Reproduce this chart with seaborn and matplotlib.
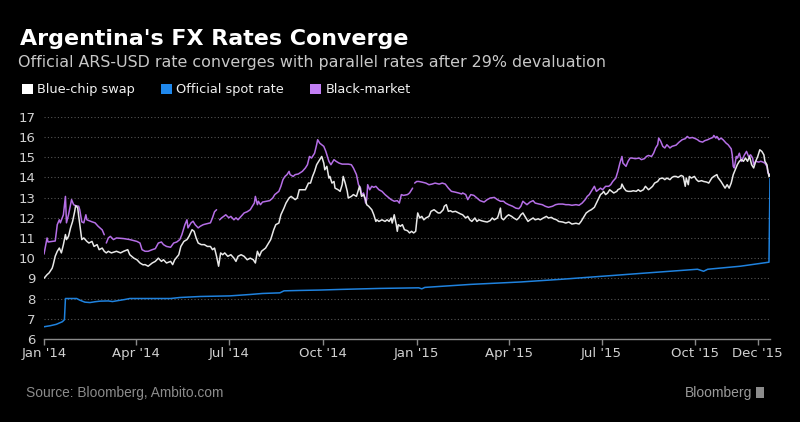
import numpy as np
import pandas as pd
import matplotlib
matplotlib.use('Agg')
import matplotlib.pyplot as plt
import seaborn as sns
from matplotlib.patches import Patch, Rectangle

# ARS per USD, x = days since 2014-01-01
swap_days = [0, 3, 5, 8, 9, 11, 13, 15, 17, 19, 21, 22, 24, 26, 28, 30, 31, 33, 34, 36,
             37, 39, 42, 44, 47, 49, 52, 54, 57, 59, 61, 63, 66, 71, 75, 78, 82, 84, 88, 91,
             94, 97, 99, 102, 106, 109, 112, 115, 117, 120, 124, 126, 128, 132, 134, 137, 140, 142, 145, 147,
             149, 151, 154, 157, 160, 163, 165, 167, 169, 171, 173, 175, 177, 180, 183, 186, 188, 190, 193, 196,
             199, 202, 205, 207, 209, 211, 213, 217, 220, 222, 225, 227, 230, 232, 235, 237, 240, 242, 244, 246,
             248, 250, 253, 256, 259, 261, 263, 265, 267, 269, 271, 272, 274, 275, 277, 279, 280, 282, 284, 285,
             288, 290, 292, 293, 295, 297, 298, 301, 303, 306, 308, 309, 310, 311, 313, 315, 316, 318, 321, 323,
             325, 326, 328, 331, 334, 336, 338, 340, 341, 343, 345, 346, 347, 349, 351, 353, 356, 358, 360, 362,
             364, 365, 366, 368, 370, 372, 374, 377, 379, 382, 384, 386, 388, 391, 392, 394, 396, 398, 400, 403,
             406, 408, 410, 413, 415, 417, 419, 422, 424, 426, 428, 431, 434, 437, 439, 441, 444, 445, 447, 448,
             450, 453, 455, 458, 460, 463, 465, 467, 469, 472, 474, 476, 479, 481, 484, 486, 489, 492, 494, 497,
             499, 502, 504, 508, 511, 514, 517, 521, 524, 526, 529, 531, 534, 536, 539, 541, 543, 545, 547, 548,
             550, 552, 554, 556, 558, 561, 562, 565, 566, 568, 570, 572, 575, 577, 580, 582, 584, 587, 589, 592,
             594, 596, 598, 601, 603, 606, 608, 610, 613, 615, 617, 619, 621, 624, 626, 628, 629, 631, 632, 634,
             637, 639, 641, 644, 646, 649, 651, 654, 656, 659, 660, 663, 665, 667, 669, 671, 673, 675, 677, 679,
             681, 683, 685, 687, 689, 691, 693, 695, 697, 699, 701, 703, 705, 706, 708, 709, 710, 711]
swap_rate = [9.0, 9.18, 9.27, 9.5, 9.67, 10.1, 10.34, 10.5, 10.26, 10.67, 11.17, 10.92, 11.08, 11.5, 11.82, 12.3, 12.6, 12.5, 12.07, 11.33,
             10.92, 11.0, 10.83, 10.75, 10.83, 10.58, 10.67, 10.42, 10.5, 10.34, 10.26, 10.34, 10.26, 10.34, 10.26, 10.34, 10.42, 10.17, 10.0, 9.92,
             9.76, 9.67, 9.68, 9.6, 9.76, 9.84, 10.0, 9.84, 9.92, 9.76, 9.84, 9.68, 9.92, 10.17, 10.58, 10.83, 10.92, 11.08, 11.41, 11.33,
             11.0, 10.75, 10.67, 10.67, 10.58, 10.58, 10.42, 10.5, 10.09, 9.6, 10.26, 10.17, 10.26, 10.09, 10.17, 10.0, 9.84, 10.09, 10.17, 10.09,
             9.92, 10.0, 9.92, 9.76, 10.34, 10.1, 10.34, 10.5, 10.75, 10.92, 11.41, 11.66, 11.74, 12.15, 12.48, 12.73, 12.98, 13.06, 12.98, 12.9,
             12.98, 13.39, 13.39, 13.39, 13.72, 13.72, 14.05, 14.3, 14.63, 14.8, 14.96, 15.04, 14.71, 14.38, 14.55, 13.97, 14.05, 13.72, 13.8, 13.47,
             13.39, 13.31, 13.64, 14.05, 13.72, 13.31, 12.98, 13.06, 13.15, 13.06, 13.4, 13.56, 13.31, 13.06, 13.15, 12.9, 12.65, 12.57, 12.4, 12.15,
             11.82, 11.9, 11.82, 11.9, 11.82, 11.9, 11.82, 11.99, 11.74, 12.15, 11.66, 11.33, 11.66, 11.58, 11.66, 11.41, 11.36, 11.25, 11.33, 11.25,
             11.33, 11.82, 12.24, 11.99, 12.07, 11.9, 11.99, 12.07, 12.32, 12.4, 12.32, 12.24, 12.24, 12.4, 12.57, 12.65, 12.32, 12.35, 12.29, 12.32,
             12.24, 12.19, 12.15, 11.99, 12.07, 11.9, 11.82, 11.99, 11.82, 11.9, 11.86, 11.82, 11.79, 11.86, 11.99, 11.9, 11.99, 12.12, 12.48, 11.99,
             11.9, 12.07, 12.15, 12.07, 11.99, 11.9, 11.99, 12.15, 12.24, 11.99, 11.82, 11.9, 11.99, 11.9, 11.95, 11.9, 11.99, 12.07, 11.99, 12.02,
             11.95, 11.9, 11.82, 11.79, 11.74, 11.79, 11.69, 11.73, 11.69, 11.82, 12.07, 12.24, 12.35, 12.4, 12.52, 12.73, 12.95, 13.15, 13.23, 13.31,
             13.15, 13.23, 13.39, 13.31, 13.23, 13.31, 13.39, 13.47, 13.67, 13.47, 13.34, 13.31, 13.31, 13.34, 13.31, 13.39, 13.31, 13.39, 13.56, 13.39,
             13.47, 13.56, 13.72, 13.8, 13.94, 13.97, 13.89, 13.97, 13.89, 14.0, 14.05, 14.05, 14.0, 14.1, 14.05, 13.56, 13.97, 13.64, 14.05, 13.97,
             14.05, 13.89, 13.8, 13.84, 13.8, 13.77, 13.72, 13.97, 14.05, 14.14, 14.0, 13.8, 13.64, 13.47, 13.64, 13.47, 13.72, 14.14, 14.38, 14.63,
             14.8, 14.88, 14.8, 14.96, 14.8, 15.04, 14.63, 14.47, 14.8, 15.04, 15.37, 15.29, 15.12, 14.8, 14.63, 14.3, 14.05, 14.14]

black_days = [0, 3, 4, 8, 11, 13, 15, 16, 19, 21, 22, 24, 27, 29, 31, 34, 35, 37, 39, 41,
              42, 47, 50, 53, 57, 59, 60, 61, 63, 65, 68, 71, 78, 84, 91, 94, 96, 99, 102, 106,
              109, 112, 115, 117, 120, 124, 127, 130, 133, 135, 138, 140, 141, 144, 146, 148, 151, 153, 156, 159,
              163, 165, 167, 169, 170, 172, 174, 176, 178, 181, 183, 186, 188, 190, 193, 196, 199, 202, 204, 206,
              207, 209, 210, 212, 214, 218, 221, 224, 226, 230, 232, 234, 236, 238, 240, 241, 244, 246, 249, 253,
              256, 258, 260, 262, 265, 267, 268, 270, 272, 274, 276, 279, 281, 284, 286, 289, 292, 295, 298, 301,
              303, 306, 308, 310, 311, 313, 315, 316, 317, 319, 321, 323, 325, 328, 331, 334, 338, 340, 343, 346,
              348, 350, 352, 356, 358, 360, 361, 362, 363, 365, 367, 370, 374, 377, 380, 383, 387, 390, 393, 396,
              399, 402, 406, 409, 410, 413, 415, 418, 421, 424, 427, 431, 434, 437, 441, 444, 447, 450, 452, 455,
              459, 462, 465, 467, 469, 471, 473, 476, 479, 481, 485, 488, 491, 494, 498, 501, 504, 508, 511, 514,
              517, 521, 524, 527, 530, 532, 534, 536, 539, 541, 543, 545, 547, 550, 553, 555, 557, 560, 562, 564,
              566, 567, 570, 572, 574, 576, 579, 583, 585, 588, 590, 592, 595, 597, 599, 601, 602, 604, 606, 608,
              610, 613, 615, 619, 622, 625, 628, 630, 632, 635, 638, 640, 642, 645, 647, 650, 652, 655, 656, 658,
              659, 661, 663, 665, 668, 670, 673, 674, 675, 676, 678, 679, 681, 683, 686, 688, 690, 692, 694, 695,
              697, 700, 702, 704, 706, 708, 709, 711]
black_rate = [10.2, 11.0, 10.8, 10.83, 10.85, 11.66, 11.9, 11.75, 12.15, 13.06, 11.75, 12.15, 12.9, 12.65, 12.6, 12.57, 12.4, 11.8, 11.75, 12.15,
              11.9, 11.8, 11.75, 11.58, 11.4, 11.16, np.nan, 10.75, 11.0, 11.08, 10.92, 11.0, 10.97, 10.92, 10.83, 10.75, 10.42, 10.34, 10.34, 10.42,
              10.47, 10.75, 10.8, 10.67, 10.58, 10.54, 10.75, 10.8, 10.92, 11.16, 11.66, 11.9, 11.5, 11.75, 11.83, 11.66, 11.5, 11.58, 11.66, 11.7,
              11.75, 12.0, 12.3, 12.4, np.nan, 11.9, 12.0, 12.07, 12.15, 12.0, 12.07, 11.9, 12.0, 11.9, 12.07, 12.24, 12.3, 12.4, 12.57, 12.73,
              13.06, 12.65, 12.82, 12.65, 12.78, 12.82, 12.85, 12.98, 13.15, 13.31, 13.56, 13.89, 14.05, 14.14, 14.3, 14.14, 14.05, 14.14, 14.17, 14.3,
              14.47, 14.63, 15.04, 14.96, 15.2, 15.62, 15.87, 15.7, 15.62, 15.54, 15.29, 14.8, 14.63, 14.88, 14.8, 14.71, 14.66, 14.66, 14.66, 14.63,
              14.47, 14.14, 13.64, 13.47, 13.15, 13.23, 12.73, 12.9, 13.64, 13.39, 13.56, 13.51, 13.56, 13.39, 13.31, 13.15, 12.98, 12.9, 12.82, 12.85,
              12.73, 13.15, 13.11, 13.15, 13.23, 13.39, 13.47, np.nan, 13.72, 13.8, 13.8, 13.77, 13.72, 13.64, 13.67, 13.72, 13.67, 13.72, 13.67, 13.47,
              13.31, 13.28, 13.23, 13.18, 13.23, 13.15, 12.9, 13.15, 13.11, 12.98, 12.85, 12.78, 12.9, 12.98, 13.01, 12.9, 12.82, 12.82, 12.73, 12.65,
              12.57, 12.48, 12.45, 12.57, 12.82, 12.73, 12.65, 12.78, 12.85, 12.73, 12.68, 12.65, 12.57, 12.52, 12.57, 12.65, 12.68, 12.68, 12.65, 12.65,
              12.62, 12.65, 12.62, 12.73, 12.9, 13.06, 13.15, 13.31, 13.56, 13.31, 13.39, 13.47, 13.39, 13.56, 13.56, 13.64, 13.8, 13.97, 14.3, 14.71,
              15.04, 14.71, 14.55, 14.8, 14.96, 14.96, 14.93, 14.96, 14.88, 14.93, 15.04, 15.09, 15.04, 15.2, 15.46, 15.62, 15.95, 15.79, 15.54, 15.46,
              15.62, 15.46, 15.54, 15.6, 15.75, 15.87, 15.92, 16.03, 15.95, 15.98, 15.92, 15.87, 15.79, 15.75, 15.82, 15.87, 15.92, 15.98, 16.08, 15.95,
              16.03, 15.87, 15.95, 15.87, 15.7, 15.62, 15.42, 15.12, 14.55, 14.47, 15.04, 14.96, 15.2, 14.8, 15.12, 15.29, 15.04, 15.12, 14.96, 14.63,
              14.8, 14.76, 14.8, 14.76, 14.71, 14.55, 14.22, 14.14]

spot_days = [0, 6, 12, 18, 20, 21, 32, 35, 40, 45, 50, 55, 63, 67, 73, 79, 84, 124, 133, 153,
             182, 202, 214, 231, 235, 251, 271, 290, 329, 367, 370, 373, 418, 467, 506, 546, 594, 640, 646, 650,
             682, 710, 711]
spot_rate = [6.6, 6.65, 6.72, 6.85, 6.95, 8.0, 8.0, 7.92, 7.82, 7.8, 7.84, 7.87, 7.88, 7.85, 7.9, 7.95, 8.0, 8.0, 8.05, 8.1,
             8.13, 8.2, 8.25, 8.28, 8.38, 8.4, 8.42, 8.45, 8.5, 8.53, 8.48, 8.55, 8.7, 8.82, 8.95, 9.1, 9.28, 9.45, 9.35, 9.45,
             9.6, 9.8, 13.95]

series_names = ['Blue-chip swap', 'Official spot rate', 'Black-market']
series_colors = ['#e8e8e8', '#1f82de', '#b56ee6']
legend_colors = ['#ffffff', '#1f88ec', '#c27ef4']

tick_dates = ['2014-01-01', '2014-04-01', '2014-07-01', '2014-10-01', '2015-01-01',
              '2015-04-01', '2015-07-01', '2015-10-01', '2015-12-01']
tick_labels = ["Jan '14", "Apr '14", "Jul '14", "Oct '14", "Jan '15",
               "Apr '15", "Jul '15", "Oct '15", "Dec '15"]

start = pd.Timestamp('2014-01-01')
frames = []
for name, days, rate in zip(series_names, [swap_days, spot_days, black_days],
                            [swap_rate, spot_rate, black_rate]):
    d = pd.DataFrame({'date': start + pd.to_timedelta(days, unit='D'), 'rate': rate, 'series': name})
    d['seg'] = d['rate'].isna().cumsum()   # break the line where data is missing
    frames.append(d.dropna())
df = pd.concat(frames, ignore_index=True)

sns.set_theme(style='dark', rc={'axes.facecolor': 'black', 'figure.facecolor': 'black',
                                'savefig.facecolor': 'black', 'text.color': 'white'})
plt.rcParams['font.family'] = ['DejaVu Sans']
footer_font = ['Liberation Sans', 'DejaVu Sans']

fig = plt.figure(figsize=(8, 4.22), dpi=100)
ax = fig.add_axes([0.055, 0.197, 0.9075, 0.526])

sns.lineplot(data=df, x='date', y='rate', hue='series', units='seg', estimator=None,
             hue_order=['Black-market', 'Blue-chip swap', 'Official spot rate'],
             palette=dict(zip(series_names, series_colors)), linewidth=1.1,
             legend=False, ax=ax)

ax.set_xlim(start, start + pd.Timedelta(days=711))
ax.set_ylim(6, 17)
ax.set_yticks(range(6, 18))
ax.set_xticks(pd.to_datetime(tick_dates))
ax.set_xticklabels(tick_labels)
ax.set_xlabel('')
ax.set_ylabel('')

ax.yaxis.grid(True, linestyle=(0, (1, 2)), color='#555555', linewidth=0.8)
ax.xaxis.grid(False)
for s in ['top', 'right', 'left']:
    ax.spines[s].set_visible(False)
ax.spines['bottom'].set_color('#8a8a8a')
ax.spines['bottom'].set_linewidth(1)
ax.tick_params(axis='y', length=0, pad=6, labelcolor='#d0d0d0', labelsize=9.5)
ax.tick_params(axis='x', length=4, width=1, color='#8a8a8a', direction='out', pad=2,
               labelcolor='#d0d0d0', labelsize=9.5, bottom=True)

# title block
fig.text(0.025, 0.893, "Argentina's FX Rates Converge", color='white', fontsize=15.9,
         fontweight='bold', va='baseline')
fig.text(0.0225, 0.841, 'Official ARS-USD rate converges with parallel rates after 29% devaluation',
         color='#c8c8c8', fontsize=11.4, va='baseline')

handles = [Patch(facecolor=c, edgecolor='none', label=n) for n, c in zip(series_names, legend_colors)]
leg = fig.legend(handles=handles, loc='center left', bbox_to_anchor=(0.027, 0.787), ncol=3,
                 frameon=False, handlelength=0.9, handleheight=0.9, handletextpad=0.3,
                 columnspacing=2.0, borderaxespad=0, borderpad=0, fontsize=9.3)
for t in leg.get_texts():
    t.set_color('#f0f0f0')

# footer
fig.text(0.0325, 0.069, 'Source: Bloomberg, Ambito.com', color='#8c8c8c', fontsize=9.9,
         family=footer_font, va='center')
fig.text(0.94, 0.069, 'Bloomberg', color='#9a9a9a', fontsize=10, family=footer_font,
         va='center', ha='right')
fig.patches.append(Rectangle((0.945, 0.057), 0.010, 0.026, transform=fig.transFigure,
                             facecolor='#8c8c8c', edgecolor='none'))

fig.savefig('out.png', dpi=100, facecolor='black')
